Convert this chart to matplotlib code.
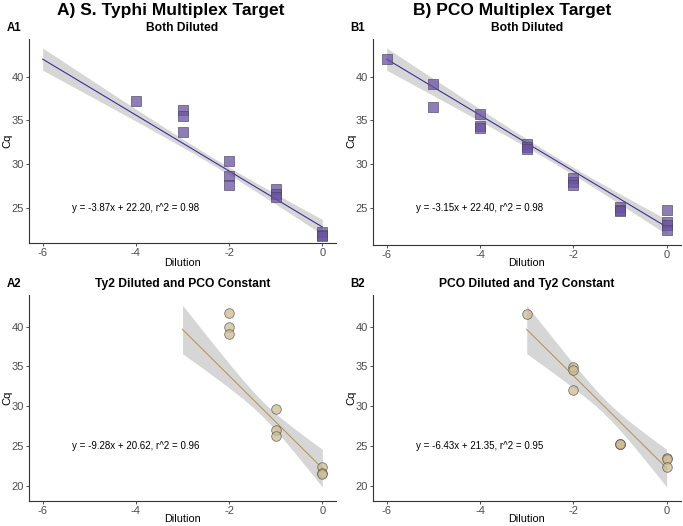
import numpy as np
import matplotlib
matplotlib.use('Agg')
import matplotlib.pyplot as plt

plt.rcParams['font.family'] = ['Liberation Sans', 'DejaVu Sans']
plt.rcParams['axes.unicode_minus'] = False

# ---- data ----
# A1: S. Typhi, both diluted
a1_x = [-4, -3, -3, -3, -2, -2, -2, -1, -1, -1, 0, 0, 0]
a1_y = [37.2, 36.2, 35.5, 33.7, 30.4, 28.6, 27.6, 27.1, 26.6, 26.2, 22.2, 21.9, 21.8]

# B1: PCO, both diluted
b1_x = [-6, -5, -5, -4, -4, -4, -3, -3, -3, -2, -2, -2, -1, -1, -1, 0, 0, 0, 0]
b1_y = [42.0, 39.1, 36.5, 35.7, 34.3, 34.1, 32.3, 32.0, 31.7, 28.4, 28.0, 27.6,
        25.1, 24.8, 24.6, 24.7, 23.4, 23.0, 22.5]

# A2: Ty2 diluted, PCO constant
a2_x = [-2, -2, -2, -1, -1, -1, 0, 0, 0]
a2_y = [41.7, 40.0, 39.1, 29.6, 27.0, 26.2, 22.4, 21.6, 21.5]

# B2: PCO diluted, Ty2 constant
b2_x = [-3, -2, -2, -2, -1, -1, -1, 0, 0, 0]
b2_y = [41.6, 34.9, 34.6, 32.0, 25.3, 25.3, 25.2, 23.5, 23.4, 22.3]

# smooth lines as drawn: x range, y at ends, band half width at ends and narrowest
fit_top = {'x': (-6, 0), 'y': (42.0, 22.8), 'hw': (1.27, 0.85, 0.42)}
fit_bottom = {'x': (-3, 0), 'y': (39.66, 22.2), 'hw': (3.05, 2.37, 0.95)}

equations = ['y = -3.87x + 22.20, r^2 = 0.98',
             'y = -3.15x + 22.40, r^2 = 0.98',
             'y = -9.28x + 20.62, r^2 = 0.96',
             'y = -6.43x + 21.35, r^2 = 0.95']
subtitles = ['Both Diluted', 'Both Diluted',
             'Ty2 Diluted and PCO Constant', 'PCO Diluted and Ty2 Constant']
tags = ['A1', 'B1', 'A2', 'B2']
col_titles = ['A) S. Typhi Multiplex Target', 'B) PCO Multiplex Target']

W, H = 683, 526


def px(x, y):
    return x / W, 1 - y / H


def add_ax(fig, left, top, right, bottom):
    return fig.add_axes([left / W, 1 - bottom / H, (right - left) / W, (bottom - top) / H])


def band(fit, n=100):
    '''line plus confidence band shaped like an OLS interval'''
    x0, x1 = fit['x']
    y0, y1 = fit['y']
    h0, h1, hm = fit['hw']
    a = hm ** 2
    r = np.sqrt((h0 ** 2 - a) / (h1 ** 2 - a))
    xc = (x0 + r * x1) / (1 + r)
    b = (h0 ** 2 - a) / (xc - x0) ** 2
    xs = np.linspace(x0, x1, n)
    ys = y0 + (y1 - y0) * (xs - x0) / (x1 - x0)
    hw = np.sqrt(a + b * (xs - xc) ** 2)
    return xs, ys, hw


def draw_panel(ax, x, y, fit, marker, fill, edge, line_col, eq, ylim, yticks):
    xs, ys, hw = band(fit)
    ax.fill_between(xs, ys - hw, ys + hw, color='#999999', alpha=0.4, lw=0, zorder=1)
    ax.plot(xs, ys, color=line_col, lw=0.8, zorder=2)
    size = 42 if marker == 's' else 48
    ax.scatter(x, y, marker=marker, s=size, c=fill, alpha=0.75,
               edgecolors=edge, linewidths=0.6, zorder=3)
    ax.text(-4, 25, eq, ha='center', va='center', fontsize=7, color='black')
    ax.set_xlim(-6.3, 0.3)
    ax.set_ylim(*ylim)
    ax.set_xticks([-6, -4, -2, 0])
    ax.set_yticks(yticks)
    for s in ['top', 'right']:
        ax.spines[s].set_visible(False)
    for s in ['left', 'bottom']:
        ax.spines[s].set_color('#333333')
        ax.spines[s].set_linewidth(0.8)
    ax.tick_params(colors='#333333', labelcolor='#4D4D4D', labelsize=8,
                   length=2.2, width=0.6, pad=1.5)


fig = plt.figure(figsize=(W / 100, H / 100), dpi=100)

purple_fill = '#6A51A3'
purple_edge = '#4A4A5A'
purple_line = '#3F2F96'
tan_fill = '#CDBB92'
tan_edge = '#55554A'
tan_line = '#B49A5A'

ax_a1 = add_ax(fig, 28.7, 39.3, 336.3, 243.3)
ax_b1 = add_ax(fig, 372.7, 39.3, 680.7, 245)
ax_a2 = add_ax(fig, 28.7, 295, 336.3, 500.7)
ax_b2 = add_ax(fig, 372.7, 295, 680.7, 500.7)

draw_panel(ax_a1, a1_x, a1_y, fit_top, 's', purple_fill, purple_edge, purple_line,
           equations[0], (20.93, 44.27), [25, 30, 35, 40])
draw_panel(ax_b1, b1_x, b1_y, fit_top, 's', purple_fill, purple_edge, purple_line,
           equations[1], (20.74, 44.27), [25, 30, 35, 40])
draw_panel(ax_a2, a2_x, a2_y, fit_bottom, 'o', tan_fill, tan_edge, tan_line,
           equations[2], (18.11, 43.99), [20, 25, 30, 35, 40])
draw_panel(ax_b2, b2_x, b2_y, fit_bottom, 'o', tan_fill, tan_edge, tan_line,
           equations[3], (18.11, 43.99), [20, 25, 30, 35, 40])

# column titles
fig.text(*px(170.5, 10), col_titles[0], ha='center', va='center',
         fontsize=12.5, fontweight='bold')
fig.text(*px(512, 10), col_titles[1], ha='center', va='center',
         fontsize=12.5, fontweight='bold')

# tags, subtitles, axis labels
for i, (lx, ty, cx) in enumerate([(7, 28, 182.5), (350, 28, 526.7),
                                  (7, 284.3, 182.5), (350, 284.3, 526.7)]):
    fig.text(*px(lx, ty), tags[i], ha='left', va='center', fontsize=8.3, fontweight='bold')
    fig.text(*px(cx, ty), subtitles[i], ha='center', va='center',
             fontsize=8.7, fontweight='bold')

for lx, cy in [(7, 141), (351, 141), (7, 398), (351, 398)]:
    fig.text(*px(lx, cy), 'Cq', ha='center', va='center', rotation=90, fontsize=8)
for cx, ly in [(182.5, 263.3), (526.7, 263.3), (182.5, 519.5), (526.7, 519.5)]:
    fig.text(*px(cx, ly), 'Dilution', ha='center', va='center', fontsize=7.8)

fig.savefig('out.png', dpi=100)
